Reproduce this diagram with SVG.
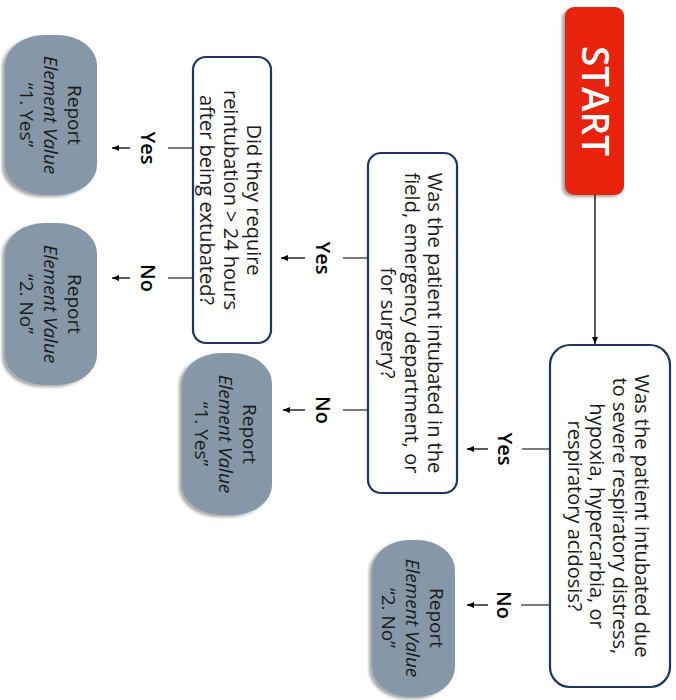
<svg xmlns="http://www.w3.org/2000/svg" width="676" height="700" viewBox="0 0 676 700">
<defs>
<filter id="sh" x="-20%" y="-20%" width="140%" height="140%">
<feDropShadow dx="-3" dy="2" stdDeviation="1.5" flood-color="#000" flood-opacity="0.35"/>
</filter>
<marker id="ah" markerWidth="8" markerHeight="8" refX="7" refY="4" orient="auto" markerUnits="userSpaceOnUse">
<path d="M0,1 L7,4 L0,7 Z" fill="#000"/>
</marker>
</defs>
<style>
.q{fill:#fff;stroke:#1F3560;stroke-width:2.2}
.rep{fill:#8698A8;filter:url(#sh)}
.t{font-family:"Open Sans","Liberation Sans",sans-serif;font-size:20px;fill:#1a1a1a;text-anchor:middle;dominant-baseline:central}
.r{font-family:"Open Sans","Liberation Sans",sans-serif;font-size:19px;fill:#1a1a1a;text-anchor:middle;dominant-baseline:central}
.lbl{font-family:"Open Sans","Liberation Sans",sans-serif;font-size:20px;font-weight:600;fill:#000;text-anchor:middle;dominant-baseline:central}
.ln{stroke:#333;stroke-width:1.3;fill:none}
.ar{stroke:#000;stroke-width:1.3;fill:none;marker-end:url(#ah)}
</style>
<rect width="676" height="700" fill="#fff"/>

<g id="start">
<rect x="565" y="7" width="59" height="188" rx="9" fill="#E8200A" filter="url(#sh)"/>
<text transform="translate(596,101) rotate(90)" font-family="'Open Sans','Liberation Sans',sans-serif" font-size="37" font-weight="600" fill="#fff" text-anchor="middle" dominant-baseline="central">START</text>
</g>

<g id="q1">
<rect class="q" x="550" y="345" width="120" height="342" rx="20"/>
<text class="t" transform="translate(643,516) rotate(90)"><tspan x="0" dy="0">Was the patient intubated due</tspan><tspan x="0" dy="22.5">to severe respiratory distress,</tspan><tspan x="0" dy="22.5">hypoxia, hypercarbia, or</tspan><tspan x="0" dy="22.5">respiratory acidosis?</tspan></text>
</g>

<g id="q2">
<rect class="q" x="368" y="153" width="89" height="340" rx="13"/>
<text class="t" transform="translate(436,323) rotate(90)"><tspan x="0" dy="0">Was the patient intubated in the</tspan><tspan x="0" dy="23.5">field, emergency department, or</tspan><tspan x="0" dy="23.5">for surgery?</tspan></text>
</g>

<g id="q3">
<rect class="q" x="193" y="57" width="78" height="286" rx="13"/>
<text class="t" transform="translate(255,200) rotate(90)"><tspan x="0" dy="0">Did they require</tspan><tspan x="0" dy="23.5">reintubation &gt; 24 hours</tspan><tspan x="0" dy="23.5">after being extubated?</tspan></text>
</g>

<g id="r1">
<rect class="rep" x="5" y="35" width="92" height="160" rx="40" ry="30"/>
<text class="r" transform="translate(75,115) rotate(90)"><tspan x="0" dy="0">Report</tspan><tspan x="0" dy="24" font-style="italic">Element Value</tspan><tspan x="0" dy="24">“1. Yes”</tspan></text>
</g>

<g id="r2">
<rect class="rep" x="5" y="223" width="92" height="162" rx="40" ry="30"/>
<text class="r" transform="translate(75,304) rotate(90)"><tspan x="0" dy="0">Report</tspan><tspan x="0" dy="24" font-style="italic">Element Value</tspan><tspan x="0" dy="24">“2. No”</tspan></text>
</g>

<g id="r3">
<rect class="rep" x="182" y="353" width="90" height="162" rx="40" ry="30"/>
<text class="r" transform="translate(250,434) rotate(90)"><tspan x="0" dy="0">Report</tspan><tspan x="0" dy="24" font-style="italic">Element Value</tspan><tspan x="0" dy="24">“1. Yes”</tspan></text>
</g>

<g id="r4">
<rect class="rep" x="372" y="540" width="83" height="157" rx="38" ry="30"/>
<text class="r" transform="translate(437,618) rotate(90)"><tspan x="0" dy="0">Report</tspan><tspan x="0" dy="24" font-style="italic">Element Value</tspan><tspan x="0" dy="24">“2. No”</tspan></text>
</g>

<g id="connectors">
<line class="ar" x1="595" y1="195" x2="595" y2="344"/>
<line class="ln" x1="550" y1="449" x2="522" y2="449"/>
<line class="ar" x1="488" y1="449" x2="467" y2="449"/>
<text class="lbl" transform="translate(505,449) rotate(90)">Yes</text>
<line class="ln" x1="550" y1="605" x2="521" y2="605"/>
<line class="ar" x1="488" y1="605" x2="467" y2="605"/>
<text class="lbl" transform="translate(504,605) rotate(90)">No</text>
<line class="ln" x1="368" y1="258" x2="343" y2="258"/>
<line class="ar" x1="305" y1="258" x2="281" y2="258"/>
<text class="lbl" transform="translate(323,258) rotate(90)">Yes</text>
<line class="ln" x1="368" y1="410" x2="343" y2="410"/>
<line class="ar" x1="305" y1="410" x2="283" y2="410"/>
<text class="lbl" transform="translate(323,410) rotate(90)">No</text>
<line class="ln" x1="193" y1="148" x2="168" y2="148"/>
<line class="ar" x1="130" y1="148" x2="112" y2="148"/>
<text class="lbl" transform="translate(148,148) rotate(90)">Yes</text>
<line class="ln" x1="193" y1="278" x2="168" y2="278"/>
<line class="ar" x1="130" y1="278" x2="112" y2="278"/>
<text class="lbl" transform="translate(148,278) rotate(90)">No</text>
</g>
</svg>
